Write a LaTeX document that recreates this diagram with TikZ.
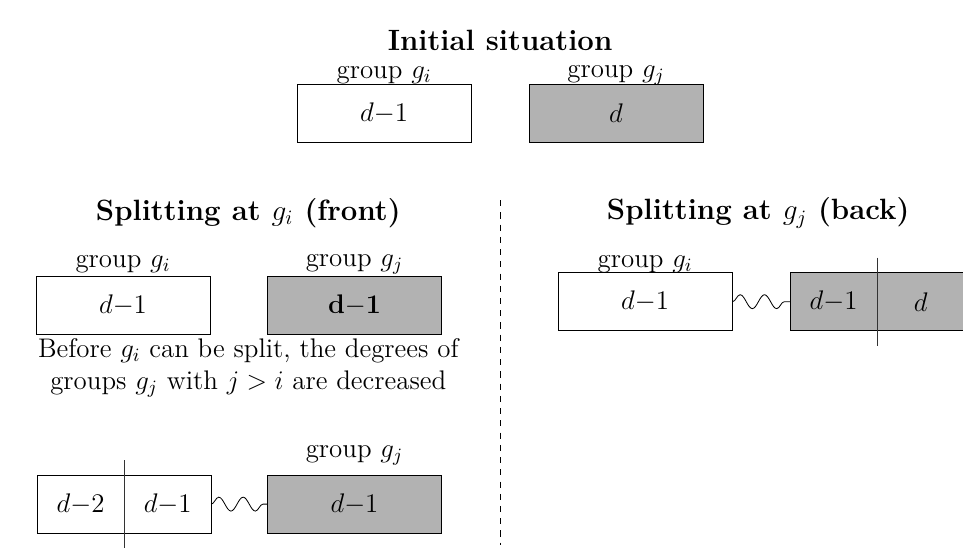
\RequirePackage{fix-cm}
\documentclass[tikz,border=0pt]{standalone}
\usepackage{amsmath}
\usepackage{amssymb}
\usepackage{tikz}
\usetikzlibrary{calc}
\usetikzlibrary{positioning}
\usetikzlibrary{decorations.pathmorphing}
\tikzset{>=latex}
\definecolor{groupgray}{gray}{0.7}
\newcommand{\picsize}{\fontsize{13.2pt}{16pt}\selectfont}
\newcommand{\titlesize}{\fontsize{14.4pt}{17pt}\selectfont}

\begin{document}
\begin{tikzpicture}[
            font=\picsize,
            title/.style={
                align=center, font=\titlesize\bfseries,
            },
            grouplabel/.style={
                inner sep=1pt,
            },
            groupbox/.style={
                draw=black, minimum width=3cm, minimum height=1cm,
                inner sep=0pt, fill=white,
            },
            halfbox/.style={
                draw=black, minimum width=1.5cm, minimum height=1cm,
                inner sep=0pt, outer sep=0pt, fill=white,
            },
            shaded/.style={fill=groupgray},
            wave/.style={decorate, decoration={snake, segment length=0.42cm, amplitude=0.12cm}},
            cut/.style={thin, black!80},
            separator/.style={dashed, thin},
        ]
            \useasboundingbox (0,0) rectangle (16.60,-9.43);

            % --- initial situation ---
            \node[title] (tInit) at (8.62,-0.69) {Initial situation};
            \node[groupbox] (iniI) at (6.62,-1.95) {$d{-}1$};
            \node[groupbox, shaded] (iniJ) at (10.62,-1.95) {$d$};
            \node[grouplabel] (lIniI) at (6.62,-1.30) {group $g_i$};
            \node[grouplabel] (lIniJ) at (10.62,-1.30) {group $g_j$};

            % --- separator between both cases ---
            \coordinate (sepTop) at (8.62,-3.45);
            \coordinate (sepBot) at (8.62,-9.40);
            \draw[separator] (sepTop) -- (sepBot);

            % --- splitting at g_i (front) ---
            \node[title] (tFront) at (4.28,-3.67) {Splitting at $g_i$ (front)};
            \node[groupbox] (frI) at (2.12,-5.26) {$d{-}1$};
            \node[groupbox, shaded] (frJ) at (6.11,-5.26) {$\mathbf{d{-}1}$};
            \node[grouplabel] (lFrI) at (2.12,-4.55) {group $g_i$};
            \node[grouplabel] (lFrJ) at (6.11,-4.55) {group $g_j$};
            \node[align=center] (note) at (4.28,-6.34)
                {Before $g_i$ can be split, the degrees of\\groups $g_j$ with $j>i$ are decreased};

            \node[halfbox] (spA) at (1.39,-8.69) {$d{-}2$};
            \node[halfbox, right=0pt of spA] (spB) {$d{-}1$};
            \node[groupbox, shaded] (spJ) at (6.11,-8.69) {$d{-}1$};
            \node[grouplabel] (lSpJ) at (6.11,-7.84) {group $g_j$};
            \draw[wave] (spB.east) -- (spJ.west);
            \coordinate (cutATop) at ($(spA.north east)+(0,0.26)$);
            \coordinate (cutABot) at ($(spA.south east)+(0,-0.26)$);
            \draw[cut] (cutATop) -- (cutABot);

            % --- splitting at g_j (back) ---
            \node[title] (tBack) at (13.07,-3.67) {Splitting at $g_j$ (back)};
            \node[groupbox] (bkI) at (11.12,-5.20) {$d{-}1$};
            \node[halfbox, shaded] (bkA) at (14.37,-5.20) {$d{-}1$};
            \node[halfbox, shaded, right=0pt of bkA] (bkB) {$d$};
            \node[grouplabel] (lBkI) at (11.12,-4.55) {group $g_i$};
            \draw[wave] (bkI.east) -- (bkA.west);
            \coordinate (cutBTop) at ($(bkA.north east)+(0,0.26)$);
            \coordinate (cutBBot) at ($(bkA.south east)+(0,-0.26)$);
            \draw[cut] (cutBTop) -- (cutBBot);
        \end{tikzpicture}
\end{document}
